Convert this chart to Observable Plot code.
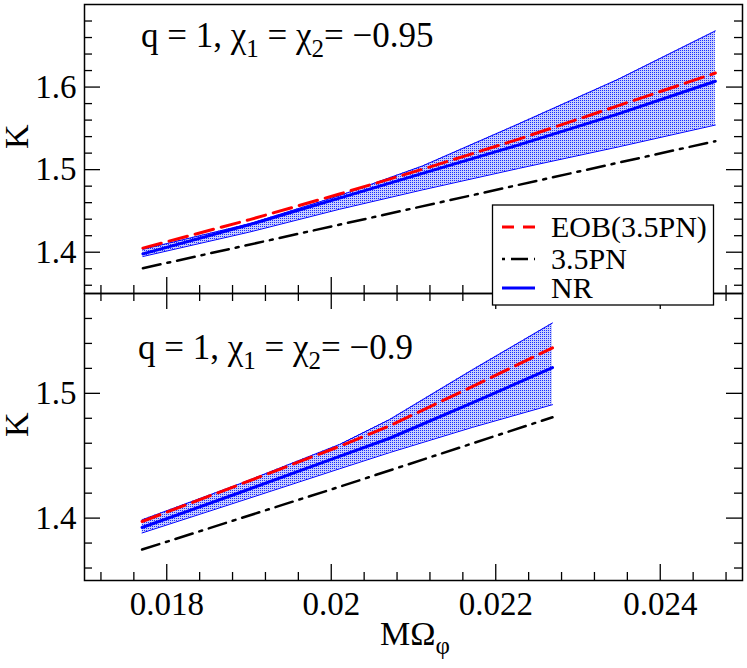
<!DOCTYPE html>
<html>
<head>
<meta charset="utf-8">
<script src="https://cdn.jsdelivr.net/npm/d3@7"></script>
<script src="https://cdn.jsdelivr.net/npm/@observablehq/plot@0.6"></script>
<style>
  html,body{margin:0;padding:0;background:#fff;}
  #chart{position:relative;width:747px;height:668px;overflow:hidden;background:#fff;}
  #chart svg{position:absolute;left:0;top:0;}
</style>
</head>
<body>
<div id="chart"></div>
<script>
// ---------------- data ----------------
const xTicks = [0.018, 0.02, 0.022, 0.024];
const xMinorTicks = [0.0172, 0.0176, 0.0184, 0.0188, 0.0192, 0.0196, 0.0204, 0.0208,
                     0.0212, 0.0216, 0.0224, 0.0228, 0.0232, 0.0236, 0.0244, 0.0248];
const topYTicks = [1.4, 1.5, 1.6];
const topYMinorTicks = [1.36, 1.38, 1.42, 1.44, 1.46, 1.48, 1.52, 1.54, 1.56, 1.58, 1.62, 1.64, 1.66, 1.68];
const bottomYTicks = [1.4, 1.5];
const bottomYMinorTicks = [1.36, 1.38, 1.42, 1.44, 1.46, 1.48, 1.52, 1.54, 1.56];

// top panel: q = 1, chi1 = chi2 = -0.95
const topX      = [0.01771, 0.01901, 0.02010, 0.02111, 0.02228, 0.02349, 0.02467];
const topEOB    = [1.405, 1.4395, 1.4705, 1.5005, 1.537, 1.5775, 1.617];
const topNR     = [1.398, 1.4335, 1.4655, 1.4955, 1.530, 1.5675, 1.607];
const topNRHigh = [1.4035, 1.4345, 1.4685, 1.5045, 1.5555, 1.6095, 1.668];
const topNRLow  = [1.3948, 1.4245, 1.452, 1.4755, 1.5015, 1.5275, 1.554];
const topPNX    = [0.01771, 0.02046, 0.02467];
const topPN     = [1.3806, 1.4413, 1.5345];

// bottom panel: q = 1, chi1 = chi2 = -0.9
const botX      = [0.01770, 0.01889, 0.02010, 0.02071, 0.02172, 0.02269];
const botEOB    = [1.3973, 1.427, 1.4575, 1.474, 1.5055, 1.5365];
const botNR     = [1.3925, 1.4205, 1.4495, 1.464, 1.4925, 1.5206];
const botNRHigh = [1.3986, 1.4275, 1.459, 1.479, 1.519, 1.5564];
const botNRLow  = [1.3881, 1.4135, 1.4395, 1.4525, 1.4728, 1.4909];
const botPNX    = [0.01770, 0.02010, 0.02269];
const botPN     = [1.3748, 1.4251, 1.4808];

const spinLabels = ["\u22120.95", "\u22120.9"];
const legendLabels = ["EOB(3.5PN)", "3.5PN", "NR"];
const yLabel = "K";

// ---------------- layout ----------------
const W = 747, H = 668, ML = 84, MR = 5;
const innerW = W - ML - MR;
const FONT = '"Liberation Serif","Times New Roman",Times,serif';
const INK = "#000";
const BLUE = "#0000ff", RED = "#ff0000";

function makePanel(o) {
  const innerH = H - o.mt - o.mb;
  const rows = o.x.map((x, i) => ({x, eob: o.eob[i], nr: o.nr[i], hi: o.hi[i], lo: o.lo[i]}));
  const pn = o.pnx.map((x, i) => ({x, pn: o.pn[i]}));
  const MAJ = 16, MIN = 8;
  const tickStyle = {stroke: INK, strokeWidth: 1.3};
  const marks = [
    Plot.areaY(rows, {x: "x", y1: "lo", y2: "hi", fill: `url(#${o.id})`}),
    Plot.line(rows, {x: "x", y: "hi", stroke: BLUE, strokeWidth: 1}),
    Plot.line(rows, {x: "x", y: "lo", stroke: BLUE, strokeWidth: 1}),
    Plot.line(pn, {x: "x", y: "pn", stroke: INK, strokeWidth: 2.5, strokeDasharray: "18,7,3,7"}),
    Plot.line(rows, {x: "x", y: "nr", stroke: BLUE, strokeWidth: 3}),
    Plot.line(rows, {x: "x", y: "eob", stroke: RED, strokeWidth: 3, strokeDasharray: "19,8"}),
    Plot.tickY(o.yMajor, {y: d => d, insetRight: innerW - MAJ, ...tickStyle}),
    Plot.tickY(o.yMinor, {y: d => d, insetRight: innerW - MIN, ...tickStyle}),
    Plot.tickY(o.yMajor, {y: d => d, insetLeft: innerW - MAJ, ...tickStyle}),
    Plot.tickY(o.yMinor, {y: d => d, insetLeft: innerW - MIN, ...tickStyle}),
    Plot.tickX(xTicks, {x: d => d, insetTop: innerH - MAJ, ...tickStyle}),
    Plot.tickX(xMinorTicks, {x: d => d, insetTop: innerH - MIN, ...tickStyle}),
    Plot.text(o.yMajor, {y: d => d, text: d => d.toFixed(1), frameAnchor: "left", textAnchor: "end", dx: -8, fontSize: 33, fill: INK}),
    Plot.text([yLabel], {text: d => d, frameAnchor: "left", rotate: -90, dx: -67, fontSize: 34, fill: INK})
  ];
  if (o.topTicks) {
    marks.push(Plot.tickX(xTicks, {x: d => d, insetBottom: innerH - MAJ, ...tickStyle}));
    marks.push(Plot.tickX(xMinorTicks, {x: d => d, insetBottom: innerH - MIN, ...tickStyle}));
  }
  if (o.xLabels) {
    marks.push(Plot.text(xTicks, {x: d => d, text: d => String(d), frameAnchor: "bottom", lineAnchor: "top", dy: 11, fontSize: 33, fill: INK}));
  }
  marks.push(Plot.frame({stroke: INK, strokeWidth: 1.5}));

  const svg = Plot.plot({
    width: W, height: H,
    marginTop: o.mt, marginBottom: o.mb, marginLeft: ML, marginRight: MR,
    x: {domain: [0.017, 0.025], axis: null},
    y: {domain: o.yDomain, axis: null},
    style: {fontFamily: FONT, background: "transparent", color: INK, overflow: "visible"},
    marks
  });

  // stipple pattern for the NR error band
  const defs = d3.select(svg).insert("defs", ":first-child");
  const p = defs.append("pattern").attr("id", o.id).attr("patternUnits", "userSpaceOnUse")
    .attr("width", 2).attr("height", 2);
  p.append("rect").attr("width", 2).attr("height", 2).attr("fill", "#c9cffc");
  p.append("rect").attr("width", 1).attr("height", 1).attr("fill", "#1a2cff");

  // annotation with subscripts
  const t = d3.select(svg).append("text").attr("x", o.annX).attr("y", o.annY)
    .attr("text-anchor", "start")
    .attr("font-family", FONT).attr("font-size", 35).attr("fill", INK);
  t.append("tspan").text("q = 1, \u03c7");
  t.append("tspan").attr("font-size", 25).attr("dy", 10).text("1");
  t.append("tspan").attr("dy", -10).text(" = \u03c7");
  t.append("tspan").attr("font-size", 25).attr("dy", 10).text("2");
  t.append("tspan").attr("dy", -10).text("= " + o.spin);
  return svg;
}

const chart = document.getElementById("chart");

const topSvg = makePanel({
  id: "stipTop", mt: 4, mb: H - 293, yDomain: [1.35, 1.70],
  yMajor: topYTicks, yMinor: topYMinorTicks,
  x: topX, eob: topEOB, nr: topNR, hi: topNRHigh, lo: topNRLow, pnx: topPNX, pn: topPN,
  topTicks: false, xLabels: false, annX: 141, annY: 47, spin: spinLabels[0]
});
chart.appendChild(topSvg);

const botSvg = makePanel({
  id: "stipBot", mt: 293, mb: H - 580, yDomain: [1.35, 1.58],
  yMajor: bottomYTicks, yMinor: bottomYMinorTicks,
  x: botX, eob: botEOB, nr: botNR, hi: botNRHigh, lo: botNRLow, pnx: botPNX, pn: botPN,
  topTicks: true, xLabels: true, annX: 138, annY: 359, spin: spinLabels[1]
});
chart.appendChild(botSvg);

// x-axis label M Omega_phi
const bs = d3.select(botSvg);
const xl = bs.append("text").attr("x", 380).attr("y", 645).attr("text-anchor", "start")
  .attr("font-family", FONT).attr("font-size", 34).attr("fill", INK);
xl.append("tspan").text("M\u03a9");
xl.append("tspan").attr("font-size", 25).attr("dy", 9).text("\u03c6");

// legend (drawn over the panel divider)
const lg = bs.append("g");
lg.append("rect").attr("x", 492.5).attr("y", 205).attr("width", 221).attr("height", 100)
  .attr("fill", "#fff").attr("stroke", INK).attr("stroke-width", 1.3);
const legendStyles = [
  {stroke: RED, dash: "12,9", width: 3, y: 227},
  {stroke: INK, dash: "3,6,17,6,3", width: 2.5, y: 259},
  {stroke: BLUE, dash: null, width: 3, y: 288}
];
legendLabels.forEach((lab, i) => {
  const s = legendStyles[i];
  lg.append("line").attr("x1", 502).attr("x2", 535).attr("y1", s.y).attr("y2", s.y)
    .attr("stroke", s.stroke).attr("stroke-width", s.width)
    .attr("stroke-dasharray", s.dash);
  lg.append("text").attr("x", 551).attr("y", s.y + 10).attr("text-anchor", "start")
    .attr("font-family", FONT).attr("font-size", 30).attr("fill", INK).text(lab);
});
</script>
</body>
</html>
